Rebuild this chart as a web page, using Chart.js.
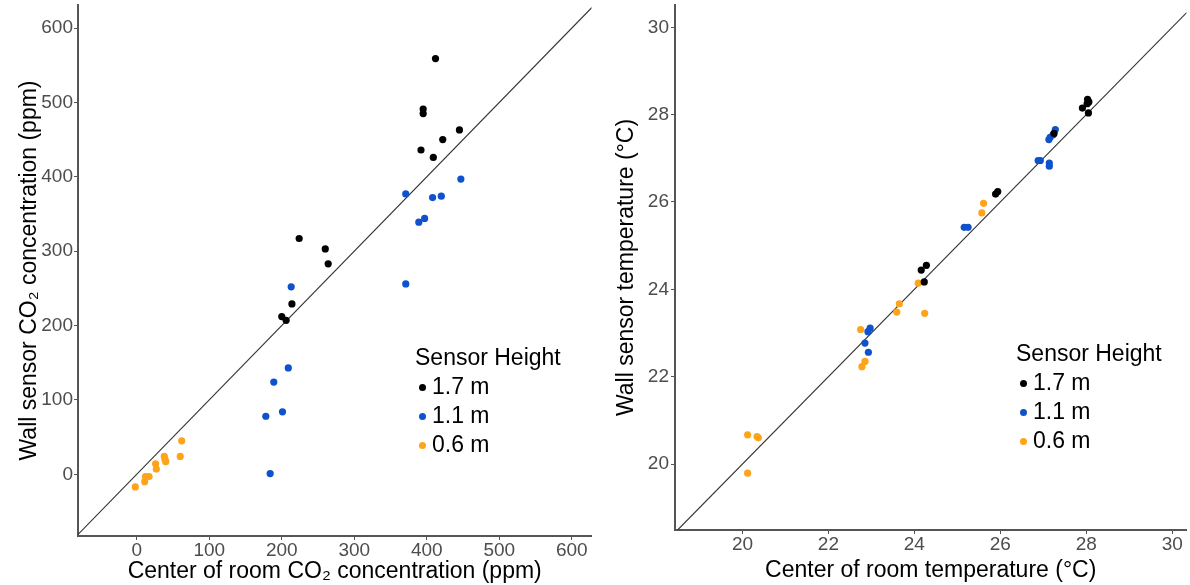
<!DOCTYPE html>
<html>
<head>
<meta charset="utf-8">
<script src="https://cdn.jsdelivr.net/npm/chart.js@4"></script>
<style>
  body { margin: 0; background: #fff; font-family: "Liberation Sans", Arial, sans-serif; }
  #wrap { position: relative; width: 1190px; height: 585px; }
  .box { position: absolute; top: 0; width: 595px; height: 585px; }
  .legend { position: absolute; color: #000; font-size: 23px; line-height: 29px; }
  .legend .item { position: relative; padding-left: 17px; }
  .legend .dot { position: absolute; left: 4px; top: 12px; width: 7px; height: 7px; border-radius: 50%; }
</style>
</head>
<body>
<div id="wrap">
  <div class="box" style="left:0"><canvas id="chart_co2" width="595" height="585"></canvas></div>
  <div class="box" style="left:595px"><canvas id="chart_temp" width="595" height="585"></canvas></div>
  <div class="legend" style="left:415px; top:343px">
    <div>Sensor Height</div>
    <div class="item"><span class="dot" style="background:#000"></span>1.7 m</div>
    <div class="item"><span class="dot" style="background:#0F52CC"></span>1.1 m</div>
    <div class="item"><span class="dot" style="background:#FFA319"></span>0.6 m</div>
  </div>
  <div class="legend" style="left:1016px; top:339px">
    <div>Sensor Height</div>
    <div class="item"><span class="dot" style="background:#000"></span>1.7 m</div>
    <div class="item"><span class="dot" style="background:#0F52CC"></span>1.1 m</div>
    <div class="item"><span class="dot" style="background:#FFA319"></span>0.6 m</div>
  </div>
</div>
<script>
// CO2 chart data: [center of room, wall sensor]
const co2_17m = [[412,559],[395,491],[395,485],[392,436],[409,426],[422,450],[445,463],
                 [224,317],[260,303],[264,283],[214,229],[200,212],[206,207]];
const co2_11m = [[447,397],[371,377],[408,372],[420,374],[389,339],[397,344],[371,256],
                 [213,252],[209,143],[189,124],[178,78],[201,84],[184,1]];
const co2_06m = [[62,45],[60,24],[38,24],[39,20],[40,17],[26,14],[27,7],[17,-3],[12,-3],
                 [11,-10],[-2,-17]];
const co2Ticks = [0, 100, 200, 300, 400, 500, 600];

// temperature chart data: [center of room, wall sensor]
const temp_17m = [[27.91,28.15],[28.03,28.35],[28.06,28.29],[28.02,28.25],[28.05,28.04],
                  [25.89,26.18],[25.94,26.24],[24.16,24.44],[24.28,24.55],[24.23,24.17],
                  [27.25,27.57]];
const temp_11m = [[27.28,27.66],[27.23,27.54],[27.16,27.48],[27.13,27.43],[26.88,26.95],
                  [26.93,26.95],[27.14,26.89],[27.14,26.82],[25.16,25.42],[25.25,25.42],
                  [22.97,23.11],[22.92,23.03],[22.85,22.77],[22.93,22.56]];
const temp_06m = [[25.61,25.97],[25.57,25.75],[24.09,24.14],[23.65,23.67],[23.59,23.48],
                  [24.24,23.45],[22.75,23.08],[22.85,22.35],[22.78,22.23],[20.12,20.67],
                  [20.34,20.63],[20.37,20.60],[20.12,19.79]];
const tempTicks = [20, 22, 24, 26, 28, 30];

const seriesNames = ['1.7 m', '1.1 m', '0.6 m'];
const seriesColors = ['#000000', '#0F52CC', '#FFA319'];

const FONT = 'Liberation Sans';

function toPoints(arr) {
    return arr.map(function (p) { return { x: p[0], y: p[1] }; });
}

function makeAxis(min, max, ticks, title, titlePad, tickPad, size, isY) {
    return {
        type: 'linear',
        min: min,
        max: max,
        afterBuildTicks: function (scale) {
            scale.ticks = ticks.map(function (v) { return { value: v }; });
        },
        afterFit: function (scale) {
            if (isY) { scale.width = size; } else { scale.height = size; }
            // keep the plot area where we put it, labels never reach the edges
            scale.paddingTop = 0;
            scale.paddingBottom = 0;
            scale.paddingLeft = 0;
            scale.paddingRight = 0;
        },
        grid: { display: true, drawOnChartArea: false, drawTicks: true, tickLength: 4, color: '#555', lineWidth: 1 },
        border: { display: true, color: '#555', width: 2 },
        ticks: { color: '#4d4d4d', padding: tickPad, font: { family: FONT, size: 19 } },
        title: {
            display: true,
            text: title,
            color: '#000',
            font: { family: FONT, size: 23 },
            padding: titlePad
        }
    };
}

function makeChart(el, groups, lim, xAxis, yAxis, padRight) {
    const datasets = groups.map(function (g, i) {
        return {
            type: 'scatter',
            label: seriesNames[i],
            data: toPoints(g),
            backgroundColor: seriesColors[i],
            borderWidth: 0,
            pointRadius: 3.6,
            pointHoverRadius: 3.6
        };
    });
    // 1:1 reference line across the whole plot
    datasets.push({
        type: 'line',
        label: '1:1',
        data: [{ x: lim[0], y: lim[0] }, { x: lim[1], y: lim[1] }],
        borderColor: '#333',
        borderWidth: 1.2,
        pointRadius: 0,
        fill: false
    });
    return new Chart(el, {
        type: 'scatter',
        data: { datasets: datasets },
        options: {
            responsive: false,
            animation: false,
            layout: { padding: { left: 0, top: 5, right: padRight, bottom: 0 } },
            plugins: { legend: { display: false }, tooltip: { enabled: false } },
            scales: { x: xAxis, y: yAxis }
        }
    });
}

makeChart(document.getElementById('chart_co2'),
    [co2_17m, co2_11m, co2_06m], [-100, 700],
    makeAxis(-81, 627, co2Ticks, 'Center of room CO\u2082 concentration (ppm)', { top: 0, bottom: 0 }, -1, 49, false),
    makeAxis(-83, 631, co2Ticks, 'Wall sensor CO\u2082 concentration (ppm)', { top: 16, bottom: 0 }, 1, 78, true),
    2);

makeChart(document.getElementById('chart_temp'),
    [temp_17m, temp_11m, temp_06m], [18, 31],
    makeAxis(18.43, 30.33, tempTicks, 'Center of room temperature (\u00b0C)', { top: 0, bottom: 1 }, -1, 55, false),
    makeAxis(18.49, 30.51, tempTicks, 'Wall sensor temperature (\u00b0C)', { top: 18, bottom: 0 }, 2, 80, true),
    2);
</script>
</body>
</html>
